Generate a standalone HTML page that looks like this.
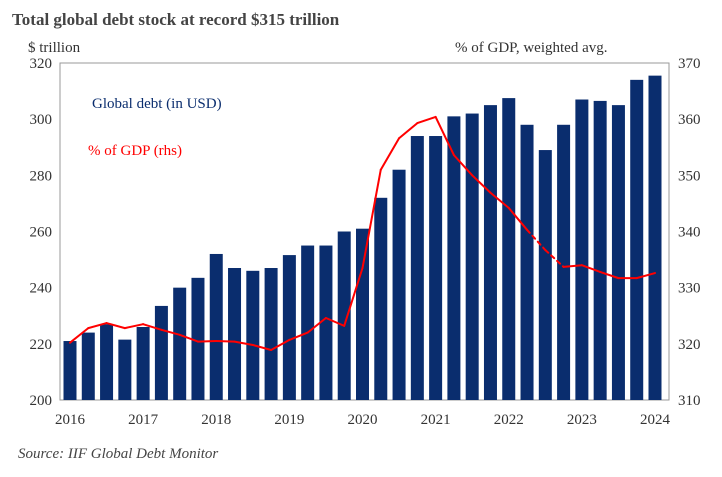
<!DOCTYPE html>
<html><head><meta charset="utf-8"><style>
body{margin:0;background:#fff;font-family:"Liberation Serif",serif;}
svg text{font-family:"Liberation Serif",serif;}
</style></head><body>
<svg width="722" height="472" viewBox="0 0 722 472">
<text x="12" y="25" font-size="17" font-weight="bold" fill="#444">Total global debt stock at record $315 trillion</text>
<text x="28" y="52" font-size="15" fill="#333">$ trillion</text>
<text x="455" y="52" font-size="15" fill="#333">% of GDP, weighted avg.</text>
<rect x="60" y="63" width="609" height="337" fill="none" stroke="#999" stroke-width="1"/>
<g id="bars"></g>
<g id="line"></g>
<g id="axes"></g>
<text x="92" y="108" font-size="15" fill="#0a2d6e">Global debt (in USD)</text>
<text x="88" y="155" font-size="15" fill="#ff0000">% of GDP (rhs)</text>
<text x="18" y="458" font-size="15" font-style="italic" fill="#444">Source: IIF Global Debt Monitor</text>
</svg>
<script>
const debt=[221,224,227,221.5,226,233.5,240,243.5,252,247,246,247,251.6,255,255,260,261,272,282,294,294,301,302,305,307.5,298,289,298,307,306.5,305,314,315.5];
const gdpPct=[320.2,322.8,323.7,322.8,323.5,322.5,321.6,320.4,320.5,320.4,319.8,318.9,320.7,322,324.6,323.2,333.5,351,356.6,359.3,360.4,353.6,350,346.9,344.2,340.3,336.7,333.7,334,332.8,331.7,331.7,332.6];
const leftTicks=[200,220,240,260,280,300,320];
const rightTicks=[310,320,330,340,350,360,370];
const yearLabels=["2016","2017","2018","2019","2020","2021","2022","2023","2024"];
const NS="http://www.w3.org/2000/svg";
const x=i=>70+i*(585/32);
const yL=v=>400-(v-200)*337/120;
const yR=v=>400-(v-310)*337/60;
function mk(t,a,p){const e=document.createElementNS(NS,t);for(const k in a)e.setAttribute(k,a[k]);p.appendChild(e);return e;}
const gb=document.getElementById('bars');
debt.forEach((v,i)=>{const r=mk('rect',{x:x(i)-6.5,y:yL(v),width:13,height:400-yL(v),fill:'#0a2d6e'},gb);

});
const gl=document.getElementById('line');
for(let i=0;i<gdpPct.length-1;i++){const dashed=(i===25||i===26);
const l=mk('line',{x1:x(i),y1:yR(gdpPct[i]),x2:x(i+1),y2:yR(gdpPct[i+1]),stroke:'#ff0000','stroke-width':2,'stroke-linecap':'round'},gl);
if(dashed)l.setAttribute('stroke-dasharray','4 4');

}
const ga=document.getElementById('axes');
leftTicks.forEach(v=>{const t=mk('text',{x:52,y:yL(v)+5,'font-size':15,fill:'#333','text-anchor':'end'},ga);t.textContent=v;

});
rightTicks.forEach(v=>{const t=mk('text',{x:678,y:yR(v)+5,'font-size':15,fill:'#333'},ga);t.textContent=v;

});
yearLabels.forEach((s,k)=>{const t=mk('text',{x:x(k*4),y:424,'font-size':15,fill:'#333','text-anchor':'middle'},ga);t.textContent=s;

});
</script>
</body></html>
